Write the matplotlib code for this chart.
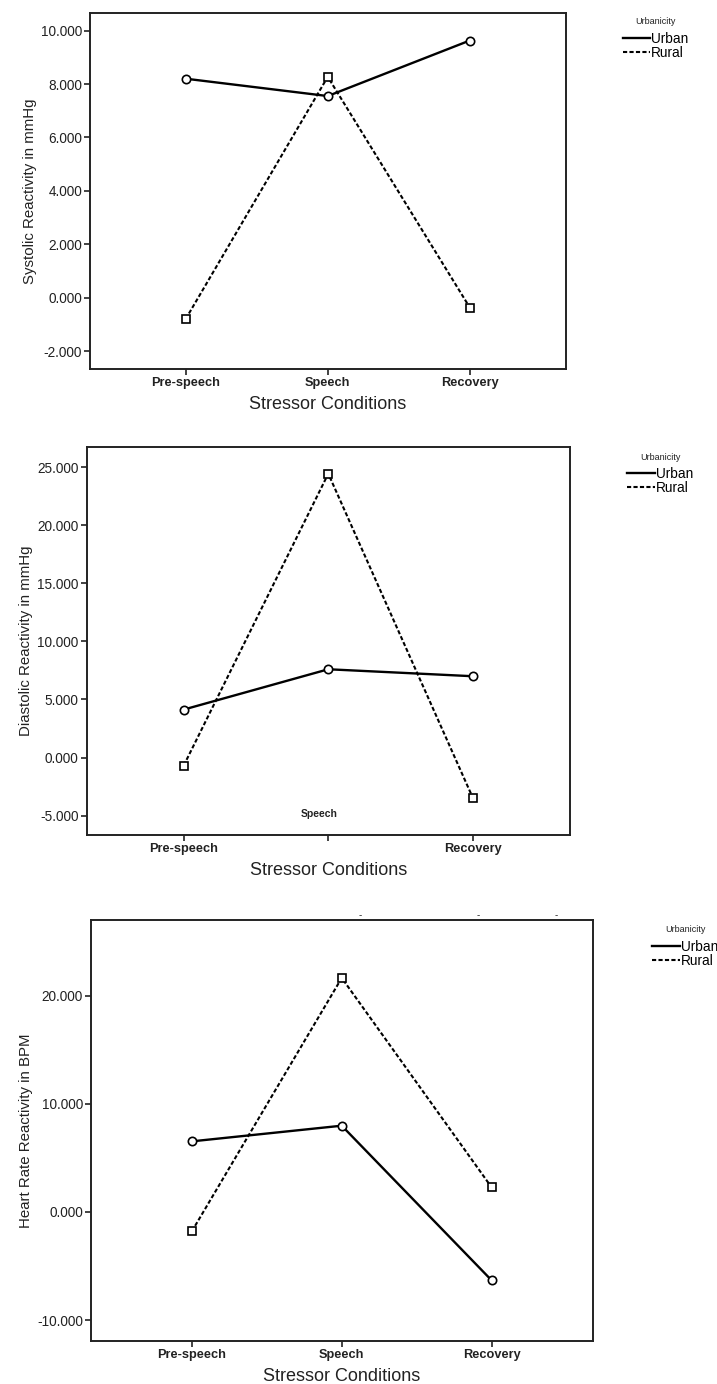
import matplotlib
matplotlib.use("Agg")
import matplotlib.pyplot as plt
from matplotlib.lines import Line2D
import numpy as np

plt.rcParams["font.family"] = ["Liberation Sans", "DejaVu Sans"]

# ----------------------------------------------------
# data
# ----------------------------------------------------
conditions = ["Pre-speech", "Speech", "Recovery"]

sys_urban = [8.20, 7.55, 9.63]
sys_rural = [-0.80, 8.27, -0.37]

dia_urban = [4.13, 7.60, 7.00]
dia_rural = [-0.69, 24.43, -3.47]

hr_urban = [6.54, 7.99, -6.33]
hr_rural = [-1.79, 21.67, 2.28]

sys_ticks = [-2, 0, 2, 4, 6, 8, 10]
dia_ticks = [-5, 0, 5, 10, 15, 20, 25]
hr_ticks = [-10, 0, 10, 20]

# stray scan marks above the heart-rate panel (category units)
hr_stray_x = [1.12, 1.91, 2.43]

fig = plt.figure(figsize=(7.17, 13.84), dpi=100)

panels = [
    # axes rect, urban, rural, ticks, ylim, ylabel, legend anchor
    ([0.1262, 0.7334, 0.6628, 0.2574], sys_urban, sys_rural, sys_ticks,
     (-2.67, 10.67), "Systolic Reactivity in mmHg", (0.8685, 0.9875)),
    ([0.1211, 0.3967, 0.6745, 0.2801], dia_urban, dia_rural, dia_ticks,
     (-6.66, 26.70), "Diastolic Reactivity in mmHg", (0.8750, 0.6730)),
    ([0.1275, 0.0311, 0.6993, 0.3042], hr_urban, hr_rural, hr_ticks,
     (-11.94, 27.04), "Heart Rate Reactivity in BPM", (0.9100, 0.3315)),
]

x = np.arange(len(conditions))
axes = []
for rect, urban, rural, ticks, ylim, ylabel, leg_xy in panels:
    ax = fig.add_axes(rect)
    ax.plot(x, urban, color="black", linewidth=1.7, linestyle="-",
            marker="o", markersize=6, markerfacecolor="white",
            markeredgecolor="black", markeredgewidth=1.2)
    ax.plot(x, rural, color="black", linewidth=1.5, linestyle=(0, (2, 1.1)),
            marker="s", markersize=6, markerfacecolor="white",
            markeredgecolor="black", markeredgewidth=1.2)

    ax.set_xlim(-0.67, 2.675)
    ax.set_ylim(*ylim)
    ax.set_yticks(ticks)
    ax.set_yticklabels(["%.3f" % t for t in ticks], fontsize=9.8, color="#222222")
    ax.set_xticks(x)
    ax.set_xticklabels(conditions, fontsize=9.2, fontweight="bold", color="#222222")
    ax.tick_params(axis="both", direction="out", length=4, width=1.2,
                   color="#222222", pad=2)
    for s in ax.spines.values():
        s.set_linewidth(1.4)
        s.set_color("#222222")

    ax.set_xlabel("Stressor Conditions", fontsize=13, color="#222222", labelpad=5)
    ax.set_ylabel(ylabel, fontsize=10.8, color="#222222", labelpad=3)

    handles = [Line2D([], [], color="black", linewidth=1.7, linestyle="-"),
               Line2D([], [], color="black", linewidth=1.5, linestyle=(0, (2, 1.1)))]
    leg = ax.legend(handles, ["Urban", "Rural"], title="Urbanicity",
                    loc="upper left", bbox_to_anchor=leg_xy,
                    bbox_transform=fig.transFigure, frameon=False,
                    fontsize=9.8, title_fontsize=6.5, handlelength=2.0,
                    handletextpad=0.1, labelspacing=0.0, borderpad=0,
                    borderaxespad=0)
    leg._legend_box.sep = 4
    leg.get_title().set_color("#222222")
    axes.append(ax)

# diastolic panel: the "Speech" label sits inside the plot instead of under the tick
ax2 = axes[1]
labels2 = list(conditions)
labels2[1] = ""
ax2.set_xticklabels(labels2, fontsize=9.2, fontweight="bold", color="#222222")
ax2.text(0.94, -4.85, conditions[1], ha="center", va="center",
         fontsize=7.5, fontweight="bold", color="#222222")

# stray dashes above the heart-rate panel
ax3 = axes[2]
for sx in hr_stray_x:
    ax3.text(sx, 27.5, "-", ha="center", va="center", fontsize=7,
             color="#222222", clip_on=False)

fig.savefig("out.png", dpi=100)
